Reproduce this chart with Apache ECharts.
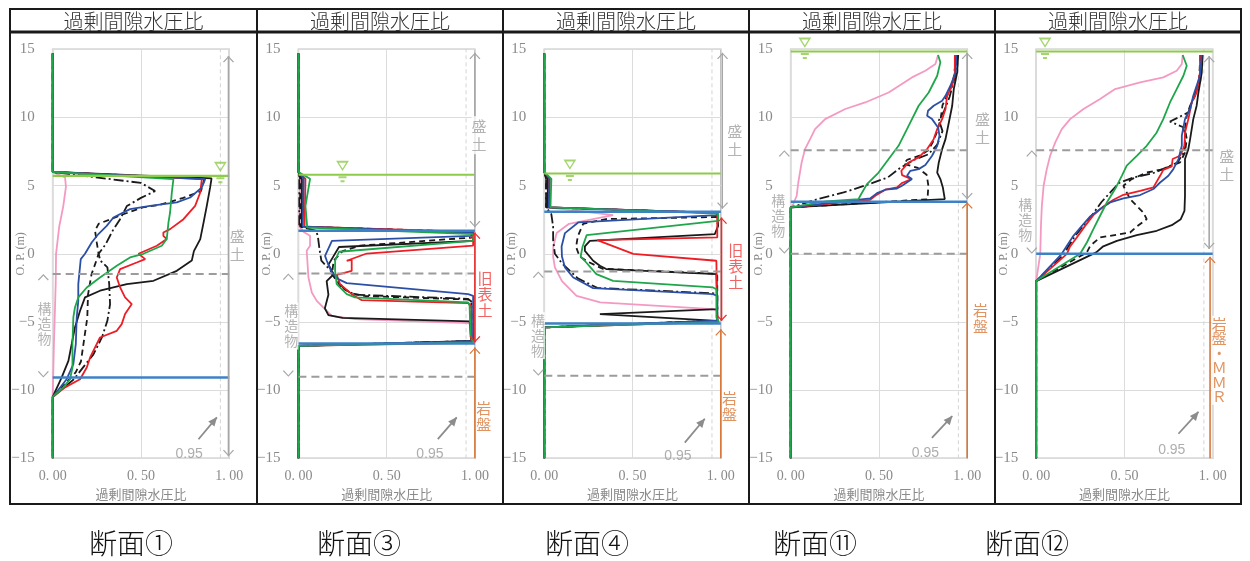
<!DOCTYPE html>
<html><head><meta charset="utf-8">
<script src="https://cdn.jsdelivr.net/npm/echarts@6/dist/echarts.min.js"></script>
<style>html,body{margin:0;padding:0;background:#fff}#c{width:1250px;height:561px}</style>
</head><body><div id="c"></div>
<script>
// ---------------- DATA ----------------
const sectionNames = ['断面①','断面③','断面④','断面⑪','断面⑫'];
const panelTitle = '過剰間隙水圧比';
const xAxisName = '過剰間隙水圧比';
const yAxisName = 'O. P. (m)';
const xTickText = {'0':'0. 00','0.5':'0. 50','1':'1. 00'};

// Panel 1 (断面①)
const p1Pink = [[0,14.7],[0,6.0],[0.07,5.6],[0.075,4.9],[0.06,3.5],[0.037,2.0],[0.019,0],[0.017,-2.2],[0.007,-6.6],[0,-10.5],[0,-15]];
const p1DashDot = [[0,14.7],[0,6.0],[0.5,5.2],[0.58,4.6],[0.5,4.1],[0.42,3.5],[0.38,2.5],[0.34,1.7],[0.3,0.7],[0.26,0],[0.27,-0.5],[0.31,-1.0],[0.32,-2.2],[0.325,-3.7],[0.31,-4.9],[0.28,-6.1],[0.23,-7.4],[0.18,-8.2],[0.12,-9.2],[0,-10.5],[0,-15]];
const p1Dashed = [[0,14.7],[0,6.0],[0.86,5.5],[0.84,4.6],[0.74,4.1],[0.61,3.6],[0.51,3.4],[0.4,2.9],[0.32,2.5],[0.26,2.2],[0.24,1.7],[0.25,0.8],[0.26,0],[0.25,-0.4],[0.22,-1.5],[0.2,-3.0],[0.196,-4.7],[0.18,-6.1],[0.16,-7.9],[0.13,-8.7],[0.08,-9.4],[0,-10.5],[0,-15]];
const p1Black = [[0,14.7],[0,6.0],[0.9,5.53],[0.892,4.87],[0.873,3.52],[0.855,2.3],[0.836,1.08],[0.8,0.2],[0.788,-0.5],[0.703,-1.25],[0.571,-1.98],[0.42,-2.22],[0.268,-2.71],[0.183,-3.2],[0.155,-4.18],[0.126,-5.4],[0.108,-6.6],[0.089,-7.85],[0.051,-9.07],[0,-10.5],[0,-15]];
const p1Red = [[0,14.7],[0,6.0],[0.845,5.48],[0.836,4.5],[0.807,3.52],[0.741,2.54],[0.665,1.81],[0.627,1.56],[0.627,1.32],[0.646,1.08],[0.59,0.59],[0.486,0],[0.524,-0.39],[0.476,-0.64],[0.382,-1.12],[0.363,-1.74],[0.382,-2.47],[0.41,-3.2],[0.448,-3.69],[0.41,-4.42],[0.391,-5.16],[0.363,-5.65],[0.268,-6.14],[0.24,-6.87],[0.212,-7.6],[0.193,-8.34],[0.155,-9.2],[0.07,-9.8],[0,-10.5],[0,-15]];
const p1Blue = [[0,14.7],[0,6.0],[0.864,5.48],[0.845,4.87],[0.779,4.13],[0.703,3.77],[0.552,3.52],[0.438,3.28],[0.344,2.66],[0.306,2.05],[0.259,1.45],[0.221,0.83],[0.183,0],[0.159,-0.39],[0.145,-2.22],[0.145,-3.45],[0.136,-4.67],[0.131,-6.6],[0.117,-8.1],[0.079,-9.2],[0,-10.5],[0,-15]];
const p1Green = [[0,14.7],[0,6.0],[0.684,5.48],[0.675,4.5],[0.665,3.03],[0.656,2.3],[0.646,1.08],[0.618,0.59],[0.514,0],[0.438,-0.27],[0.363,-0.88],[0.268,-1.74],[0.193,-2.47],[0.145,-3.2],[0.126,-3.94],[0.117,-4.67],[0.112,-6.6],[0.112,-8.34],[0.098,-9.2],[0.06,-9.8],[0,-10.5],[0,-15]];

// Panel 2 (断面③)
const p2Pink = [[0,14.7],[0,6.0],[0.01,5.5],[0.005,2.0],[0.03,1.6],[0.066,1.32],[0.066,0.59],[0.047,0.22],[0.057,-1.74],[0.076,-2.84],[0.104,-3.45],[0.189,-4.55],[0.321,-4.79],[0.962,-5.09],[0.98,-5.2],[0.98,-6.4],[0,-6.75],[0,-15]];
const p2DashDot = [[0,14.7],[0,6.0],[0.005,5.5],[0.005,2.0],[0.1,1.7],[0.11,1.3],[0.12,0.3],[0.13,-0.5],[0.18,-1.2],[0.22,-1.9],[0.26,-2.6],[0.32,-3.0],[0.96,-3.3],[0.98,-3.5],[0.98,-6.4],[0,-6.75],[0,-15]];
const p2Dashed = [[0,14.7],[0,6.0],[0.01,5.5],[0.01,2.0],[0.99,1.6],[0.99,1.2],[0.35,0.6],[0.25,0.2],[0.2,-0.5],[0.19,-1.5],[0.24,-2.4],[0.3,-2.9],[0.38,-3.1],[0.96,-3.35],[0.98,-3.6],[0.98,-6.4],[0,-6.75],[0,-15]];
const p2Black = [[0,14.7],[0,6.0],[0.02,5.5],[0.02,2.0],[0.99,1.55],[0.99,0.95],[0.23,0.5],[0.2,-0.15],[0.17,-0.8],[0.2,-1.5],[0.16,-2.0],[0.17,-3.0],[0.15,-4.0],[0.17,-4.5],[0.25,-4.7],[0.97,-4.95],[0.98,-6.4],[0,-6.75],[0,-15]];
const p2Red = [[0,14.7],[0,6.0],[0.04,5.5],[0.035,2.0],[0.99,1.6],[0.99,0.6],[0.387,0.02],[0.274,-0.51],[0.302,-0.43],[0.302,-1.25],[0.217,-1.54],[0.236,-2.22],[0.302,-2.96],[0.359,-3.4],[0.962,-3.62],[0.98,-3.82],[0.98,-6.53],[0,-6.75],[0,-15]];
const p2Blue = [[0,14.7],[0,6.0],[0.03,5.5],[0.025,2.0],[0.99,1.55],[0.98,1.32],[0.19,0.95],[0.151,-0.15],[0.161,-0.51],[0.189,-1.37],[0.226,-1.86],[0.274,-2.15],[0.962,-2.96],[0.99,-3.08],[0.99,-6.4],[0,-6.75],[0,-15]];
const p2Green = [[0,14.7],[0,6.0],[0.066,5.5],[0.04,3.5],[0.05,1.93],[0.99,1.44],[0.99,0.95],[0.23,0.15],[0.208,-0.5],[0.208,-1.25],[0.217,-2.22],[0.274,-2.96],[0.321,-3.2],[0.962,-3.57],[0.97,-3.82],[0.975,-6.0],[0.99,-6.5],[0,-6.75],[0,-15]];

// Panel 3 (断面④)
const p3Pink = [[0,14.7],[0,6.0],[0.02,5.6],[0.02,3.4],[0.39,2.84],[0.14,2.2],[0.07,1.52],[0.051,0.54],[0.05,-0.2],[0.06,-1.0],[0.1,-2.0],[0.183,-3.08],[0.317,-3.57],[0.956,-4.06],[0.98,-4.2],[0.98,-5.0],[0,-5.4],[0,-15]];
const p3DashDot = [[0,14.7],[0,6.0],[0.01,5.5],[0.01,3.4],[0.04,2.9],[0.05,2.0],[0.05,1.0],[0.06,0.0],[0.1,-0.7],[0.19,-1.8],[0.3,-2.5],[0.96,-2.9],[0.98,-3.0],[0.98,-4.9],[0,-5.4],[0,-15]];
const p3Dashed = [[0,14.7],[0,6.0],[0.01,5.5],[0.01,3.4],[0.98,3.0],[0.98,2.7],[0.35,2.55],[0.22,2.2],[0.19,1.3],[0.18,0.5],[0.2,-0.2],[0.25,-0.6],[0.33,-1.1],[0.96,-1.45],[0.98,-1.6],[0.98,-4.9],[0,-5.4],[0,-15]];
const p3Black = [[0,14.7],[0,6.0],[0.02,5.5],[0.02,3.4],[0.98,3.0],[0.985,2.05],[0.966,1.44],[0.258,0.95],[0.23,0.54],[0.23,0.22],[0.277,-0.51],[0.315,-0.88],[0.351,-1.12],[0.975,-1.49],[0.98,-4.06],[0.315,-4.43],[0.98,-4.92],[0,-5.4],[0,-15]];
const p3Red = [[0,14.7],[0,6.0],[0.03,5.5],[0.03,3.4],[0.98,3.0],[0.98,1.2],[0.3,1.0],[0.504,0.0],[0.975,-0.51],[0.98,-5.0],[0,-5.4],[0,-15]];
const p3Blue = [[0,14.7],[0,6.0],[0.03,5.5],[0.025,3.4],[0.98,3.0],[0.975,2.84],[0.192,2.3],[0.117,1.52],[0.098,0.54],[0.1,-0.2],[0.117,-1.0],[0.164,-1.74],[0.277,-2.52],[0.956,-2.96],[0.98,-3.08],[0.98,-4.9],[0,-5.4],[0,-15]];
const p3Green = [[0,14.7],[0,6.0],[0.04,5.5],[0.035,3.4],[0.985,2.95],[0.985,2.42],[0.24,1.37],[0.217,0.54],[0.206,-0.2],[0.229,-0.51],[0.295,-1.49],[0.39,-1.98],[0.956,-2.47],[0.975,-2.6],[0.975,-4.67],[0.99,-5.0],[0,-5.4],[0,-15]];

// Panel 4 (断面⑪)
const p4Pink = [[0.835,14.58],[0.82,13.92],[0.763,13.43],[0.687,12.94],[0.555,11.83],[0.422,11.1],[0.309,10.62],[0.195,9.88],[0.138,9.15],[0.11,8.41],[0.081,7.68],[0.062,6.7],[0.043,5.23],[0.034,4.26],[0.015,3.65],[0,3.4],[0,-15]];
const p4DashDot = [[0.945,14.58],[0.93,13],[0.9,11.5],[0.87,10.5],[0.84,9.8],[0.86,9.0],[0.83,8.0],[0.78,7.3],[0.7,6.9],[0.62,6.3],[0.55,5.6],[0.42,5.0],[0.3,4.5],[0.15,4.0],[0,3.4],[0,-15]];
const p4Dashed = [[0.94,14.58],[0.92,12.6],[0.886,11.59],[0.86,10.9],[0.85,9.9],[0.83,9.0],[0.81,8.3],[0.78,7.6],[0.73,7.2],[0.66,6.9],[0.64,6.6],[0.72,6.3],[0.77,5.8],[0.78,5.0],[0.775,4.0],[0,3.4],[0,-15]];
const p4Black = [[0.949,14.58],[0.943,13.3],[0.924,12.08],[0.915,10.86],[0.896,9.63],[0.877,8.41],[0.858,7.68],[0.839,6.7],[0.83,5.96],[0.848,5.48],[0.862,4.87],[0.873,4.01],[0,3.4],[0,-15]];
const p4Red = [[0.93,14.58],[0.93,13.3],[0.915,12.33],[0.886,11.59],[0.877,10.62],[0.858,9.88],[0.83,9.15],[0.81,8.41],[0.773,7.68],[0.725,7.07],[0.668,6.7],[0.627,6.09],[0.631,5.77],[0.684,5.48],[0.631,5.19],[0.602,4.87],[0.536,4.7],[0.479,4.26],[0.45,3.96],[0,3.4],[0,-15]];
const p4Blue = [[0.939,14.58],[0.934,13.3],[0.905,12.33],[0.877,11.59],[0.858,11.22],[0.81,10.86],[0.778,10.49],[0.773,10.12],[0.801,9.88],[0.835,9.27],[0.843,8.66],[0.83,7.92],[0.801,7.19],[0.763,6.51],[0.725,6.21],[0.678,6.09],[0.659,5.72],[0.687,5.48],[0.631,4.99],[0.602,4.79],[0.536,4.7],[0.489,4.45],[0.45,4.06],[0,3.4],[0,-15]];
const p4Green = [[0.835,14.58],[0.848,14.04],[0.83,13.06],[0.782,11.83],[0.725,10.86],[0.668,9.39],[0.611,7.92],[0.555,6.95],[0.498,5.96],[0.432,5.11],[0.394,4.26],[0.384,4.01],[0.2,3.85],[0,3.4],[0,-15]];

// Panel 5 (断面⑫)
const p5Pink = [[0.83,14.58],[0.825,13.92],[0.796,13.43],[0.72,12.94],[0.589,12.57],[0.447,12.08],[0.362,11.35],[0.268,10.62],[0.192,9.88],[0.145,9.15],[0.108,8.17],[0.079,7.19],[0.06,6.21],[0.042,4.99],[0.032,3.52],[0.027,2.05],[0.023,0],[0,-2.0],[0,-15]];
const p5DashDot = [[0.94,14.58],[0.928,12.47],[0.894,11.59],[0.862,10.37],[0.758,9.7],[0.83,9.3],[0.845,8.8],[0.84,7.5],[0.8,6.7],[0.75,6.4],[0.66,5.9],[0.55,5.6],[0.47,5.2],[0.42,4.5],[0.37,3.8],[0.32,2.9],[0.27,2.1],[0.22,1.3],[0.18,0.5],[0.16,0],[0,-2.0],[0,-15]];
const p5Dashed = [[0.93,14.58],[0.923,12.72],[0.9,11.59],[0.872,10.86],[0.853,10.12],[0.843,9.15],[0.853,8.41],[0.843,7.43],[0.815,6.7],[0.72,6.21],[0.626,5.96],[0.541,5.48],[0.494,4.99],[0.532,4.01],[0.607,3.03],[0.626,2.54],[0.57,2.0],[0.532,1.56],[0.362,1.2],[0.306,0.59],[0.287,0.1],[0,-2.0],[0,-15]];
const p5Black = [[0.943,14.58],[0.938,13.3],[0.919,11.83],[0.909,10.86],[0.89,9.88],[0.872,8.41],[0.862,7.68],[0.843,6.95],[0.843,5.48],[0.843,4.26],[0.84,3.15],[0.819,2.54],[0.768,2.1],[0.683,1.69],[0.57,1.37],[0.457,0.95],[0.38,0.55],[0.34,0.1],[0,-2.0],[0,-15]];
const p5Red = [[0.928,14.58],[0.928,13.3],[0.909,11.83],[0.881,11.1],[0.862,9.88],[0.843,8.9],[0.84,7.92],[0.815,7.19],[0.773,6.95],[0.768,6.41],[0.72,6.16],[0.702,5.72],[0.664,4.87],[0.589,4.62],[0.494,4.33],[0.438,3.96],[0.381,3.47],[0.324,2.84],[0.277,2.05],[0.23,1.2],[0.192,0.54],[0.174,0],[0,-2.0],[0,-15]];
const p5Blue = [[0.938,14.58],[0.928,13.06],[0.89,11.59],[0.872,10.62],[0.843,9.88],[0.825,8.66],[0.825,7.92],[0.806,6.95],[0.777,6.21],[0.749,5.72],[0.702,5.23],[0.664,4.75],[0.589,4.31],[0.494,4.06],[0.419,3.77],[0.362,3.28],[0.306,2.74],[0.259,2.05],[0.211,1.32],[0.174,0.59],[0.145,0],[0,-2.0],[0,-15]];
const p5Green = [[0.83,14.58],[0.853,13.79],[0.834,13.06],[0.796,12.08],[0.758,11.1],[0.72,9.88],[0.683,8.9],[0.626,7.92],[0.57,7.19],[0.513,6.46],[0.485,5.72],[0.447,4.75],[0.4,3.76],[0.362,2.79],[0.324,1.81],[0.287,0.83],[0.249,0],[0,-2.0],[0,-15]];

// reference levels (O.P. m)
const waterLevels = [5.72, 5.8, 5.89, 14.84, 14.84];
const waterMarkX = [0.95, 0.25, 0.145, 0.08, 0.05];
const blueLevels = [[-9.07],[1.69,-6.58],[3.08,-5.11],[3.82],[0.0]];
const dashLevels = [[-1.49],[-1.44,-9.02],[-1.3,-8.95],[7.6,0.0],[7.6]];
const structRange = [[-1.49,-9.07],[-1.44,-9.02],[-1.3,-8.95],[7.6,0.0],[7.6,0.0]];
const fillRange = [[14.5,-14.85],[14.75,1.95],[14.75,3.3],[14.75,4.0],[14.5,0.35]];
const oldSoilRange = [null,[1.56,-6.5],[2.66,-4.92],null,null];
const rockTop = [null,-6.87,-5.53,3.77,-0.22];
const threshold = 0.95;

// ---------------- LAYOUT / STYLE ----------------
const FONT_JP = '"Noto Sans CJK JP", "Noto Sans CJK SC", sans-serif';
const FONT_NUM = '"Liberation Serif", "DejaVu Serif", serif';
const plotLeft = [52.7, 298.4, 544.3, 790.7, 1036.2];
const frameX = [10, 257, 503, 749, 995, 1241];
const bottomLabelX = [89, 317, 545, 773, 985];
const ann = {
  structX: [-0.053,-0.057,-0.034,-0.036,-0.025],
  structLabel: [[-0.046,-5.1],[-0.04,-5.3],[-0.036,-6.0],[-0.07,2.8],[-0.062,2.5]],
  fillX: [0.996,1.0,1.01,1.0,0.98],
  fillLabel: [[1.045,0.6],[1.023,8.7],[1.079,8.3],[1.087,9.2],[1.079,6.5]],
  oldX: [null,1.0,1.004,null,null],
  oldLabel: [null,[1.057,-3.0],[1.085,-0.9],null,null],
  rockX: [null,1.0,1.0,1.0,0.985],
  rockLabel: [null,[1.05,-11.9],[1.05,-11.2],[1.075,-4.7],[1.037,-7.8]],
  rockText: [null,'岩\n盤','岩\n盤','岩\n盤','岩\n盤\n・\nＭ\nＭ\nＲ'],
  p95Text: [[0.773,-14.67],[0.745,-14.7],[0.757,-14.85],[0.763,-14.6],[0.768,-14.4]],
  p95Arrow: [[0.826,-13.6,0.93,-12.0],[0.79,-13.6,0.897,-12.0],[0.796,-13.85,0.909,-12.1],[0.8,-13.5,0.915,-11.9],[0.806,-13.2,0.919,-11.6]]
};
const curves = [
  {pink:p1Pink, dashdot:p1DashDot, dashed:p1Dashed, black:p1Black, red:p1Red, blue:p1Blue, green:p1Green},
  {pink:p2Pink, dashdot:p2DashDot, dashed:p2Dashed, black:p2Black, red:p2Red, blue:p2Blue, green:p2Green},
  {pink:p3Pink, dashdot:p3DashDot, dashed:p3Dashed, black:p3Black, red:p3Red, blue:p3Blue, green:p3Green},
  {pink:p4Pink, dashdot:p4DashDot, dashed:p4Dashed, black:p4Black, red:p4Red, blue:p4Blue, green:p4Green},
  {pink:p5Pink, dashdot:p5DashDot, dashed:p5Dashed, black:p5Black, red:p5Red, blue:p5Blue, green:p5Green}
];
const curveStyle = {
  pink:{color:'#F49AC2', type:'solid'},
  dashdot:{color:'#1A1A1A', type:[10,3,2,3]},
  dashed:{color:'#1A1A1A', type:[6,4]},
  black:{color:'#1A1A1A', type:'solid'},
  red:{color:'#EE1D25', type:'solid'},
  blue:{color:'#2C4FA6', type:'solid'},
  green:{color:'#1FA64A', type:'solid'}
};
const COL = {water:'#8DCB4A', blue:'#3E82C6', gdash:'#9C9C9C', gray:'#A6A6A6', red:'#EE2A2A', orange:'#D9783A', p95:'#8C8C8C'};
const CHEV = 'path://M0,10 L10,0 L20,10 L18.2,11.3 L10,2.8 L1.8,11.3 Z';
const WATER = 'path://M0,0 L10,0 L5,8 Z M1,15.5 L9,15.5 M3,19.5 L7,19.5';

const series = [];
function add(s){ series.push(Object.assign({animation:false, silent:true}, s)); }
function lineS(i, data, color, width, type, z){
  add({type:'line', xAxisIndex:i, yAxisIndex:i, data, symbol:'none', clip:false, z, lineStyle:{color, width, type}});
}
function arrowS(i, x, yA, yB, color, headA, headB){
  const pt = (y, head, rot, off) => ({value:[x,y], symbol: head?CHEV:'none', symbolRotate:rot, symbolOffset:[0,off]});
  add({type:'line', xAxisIndex:i, yAxisIndex:i, clip:false, z:5, showSymbol:true, symbolSize:[11,6.5],
       itemStyle:{color}, lineStyle:{color, width:1.6}, data:[pt(yA,headA,0,3.2), pt(yB,headB,180,-3.2)]});
}
function textS(i, x, y, text, color, size, lh, font){
  add({type:'scatter', xAxisIndex:i, yAxisIndex:i, clip:false, z:8, symbolSize:1, itemStyle:{color:'rgba(0,0,0,0)'},
       data:[[x,y]], label:{show:true, position:'inside', rotate:0, formatter:text, color, fontSize:size, lineHeight:lh,
       fontFamily:font||FONT_JP, backgroundColor:'#fff', padding:[1,0]}});
}

const grids = [], xAxes = [], yAxes = [];
for (let i = 0; i < 5; i++) {
  grids.push({left:plotLeft[i], top:49.3, width:176.5, height:409, show:true, borderColor:'#C2C2C2', borderWidth:1.6});
  xAxes.push({gridIndex:i, type:'value', min:0, max:1, interval:0.5,
    axisLine:{show:false}, axisTick:{show:false},
    splitLine:{show:true, lineStyle:{color:'#DCDCDC', width:1}},
    axisLabel:{formatter:v => xTickText[String(v)] || '', color:'#8A8A8A', fontSize:14, fontFamily:FONT_NUM, margin:11, showMinLabel:true, showMaxLabel:true},
    name:xAxisName, nameLocation:'middle', nameGap:29, nameMoveOverlap:false,
    nameTextStyle:{color:'#8A8A8A', fontSize:13, fontFamily:FONT_JP}});
  yAxes.push({gridIndex:i, type:'value', min:-15, max:15, interval:5,
    axisLine:{show:false}, axisTick:{show:false},
    splitLine:{show:true, lineStyle:{color:'#DCDCDC', width:1}},
    axisLabel:{formatter:v => String(v).replace('-', '−'), color:'#8A8A8A', fontSize:15, fontFamily:FONT_NUM, margin:18},
    name:yAxisName, nameLocation:'middle', nameRotate:90, nameGap:26, nameMoveOverlap:false,
    nameTextStyle:{color:'#8A8A8A', fontSize:12, fontFamily:FONT_NUM}});

  // threshold 0.95 dashed vertical
  lineS(i, [[threshold,-15],[threshold,15]], '#D4D4D4', 1, [4,3], 1);
  // curves
  ['pink','dashdot','dashed','black','red','blue','green'].forEach(k => {
    lineS(i, curves[i][k], curveStyle[k].color, 1.8, curveStyle[k].type, 3);
  });
  // reference lines
  dashLevels[i].forEach(y => lineS(i, [[0,y],[1,y]], COL.gdash, 2, [8,5], 4));
  blueLevels[i].forEach(y => lineS(i, [[0,y],[1,y]], COL.blue, 2.4, 'solid', 4));
  lineS(i, [[0,waterLevels[i]],[1,waterLevels[i]]], COL.water, 2.2, 'solid', 4);
  // water symbol
  add({type:'scatter', xAxisIndex:i, yAxisIndex:i, clip:false, z:6, symbol:WATER, symbolSize:[10,19.5],
       itemStyle:{color:'rgba(0,0,0,0)', borderColor:COL.water, borderWidth:1.4}, data:[[waterMarkX[i], waterLevels[i]+0.24]]});
  // structure arrow
  arrowS(i, ann.structX[i], structRange[i][0], structRange[i][1], COL.gray, true, true);
  textS(i, ann.structLabel[i][0], ann.structLabel[i][1], '構\n造\n物', '#A0A0A0', 14, 15);
  // fill (盛土) arrow
  arrowS(i, ann.fillX[i], fillRange[i][0], fillRange[i][1], COL.gray, true, true);
  textS(i, ann.fillLabel[i][0], ann.fillLabel[i][1], '盛\n土', '#A0A0A0', 15, 18);
  // old topsoil
  if (oldSoilRange[i]) {
    arrowS(i, ann.oldX[i], oldSoilRange[i][0], oldSoilRange[i][1], COL.red, true, true);
    textS(i, ann.oldLabel[i][0], ann.oldLabel[i][1], '旧\n表\n土', '#EE3B3B', 15, 16);
  }
  // rock
  if (rockTop[i] !== null) {
    arrowS(i, ann.rockX[i], rockTop[i], -15, COL.orange, true, false);
    textS(i, ann.rockLabel[i][0], ann.rockLabel[i][1], ann.rockText[i], COL.orange, 15, i===4?14.5:16);
  }
  // 0.95 annotation
  const a = ann.p95Arrow[i];
  add({type:'line', xAxisIndex:i, yAxisIndex:i, clip:false, z:5, showSymbol:true, symbolSize:[8,9],
       itemStyle:{color:COL.p95}, lineStyle:{color:COL.p95, width:1.8},
       data:[{value:[a[0],a[1]], symbol:'none'}, {value:[a[2],a[3]], symbol:'triangle', symbolRotate:-40, symbolOffset:[-2.6,3.1]}]});
  add({type:'scatter', xAxisIndex:i, yAxisIndex:i, clip:false, z:8, symbolSize:1, itemStyle:{color:'rgba(0,0,0,0)'},
       data:[ann.p95Text[i]], label:{show:true, position:'inside', formatter:String(threshold), color:'#999999', fontSize:14, fontFamily:'"Liberation Sans", Arial, sans-serif'}});
}

// frames and texts
const graphic = [];
for (let i = 0; i < 5; i++) {
  const x0 = frameX[i], x1 = frameX[i+1];
  graphic.push({type:'rect', z:100, shape:{x:x0, y:9, width:x1-x0, height:495}, style:{fill:'none', stroke:'#1A1A1A', lineWidth:2}});
  graphic.push({type:'line', z:100, shape:{x1:x0, y1:32, x2:x1, y2:32}, style:{stroke:'#1A1A1A', lineWidth:3}});
  graphic.push({type:'text', z:100, x:(x0+x1)/2, y:21, style:{text:panelTitle, fontSize:20, fontWeight:300, fontFamily:FONT_JP, fill:'#333333', textAlign:'center', textVerticalAlign:'middle'}});
  graphic.push({type:'text', z:100, x:bottomLabelX[i], y:543, style:{text:sectionNames[i], fontSize:28, fontWeight:300, fontFamily:FONT_JP, fill:'#111111', textAlign:'left', textVerticalAlign:'middle'}});
}

const chart = echarts.init(document.getElementById('c'), null, {renderer:'canvas'});
chart.setOption({animation:false, backgroundColor:'#fff', grid:grids, xAxis:xAxes, yAxis:yAxes, series, graphic});
</script></body></html>
